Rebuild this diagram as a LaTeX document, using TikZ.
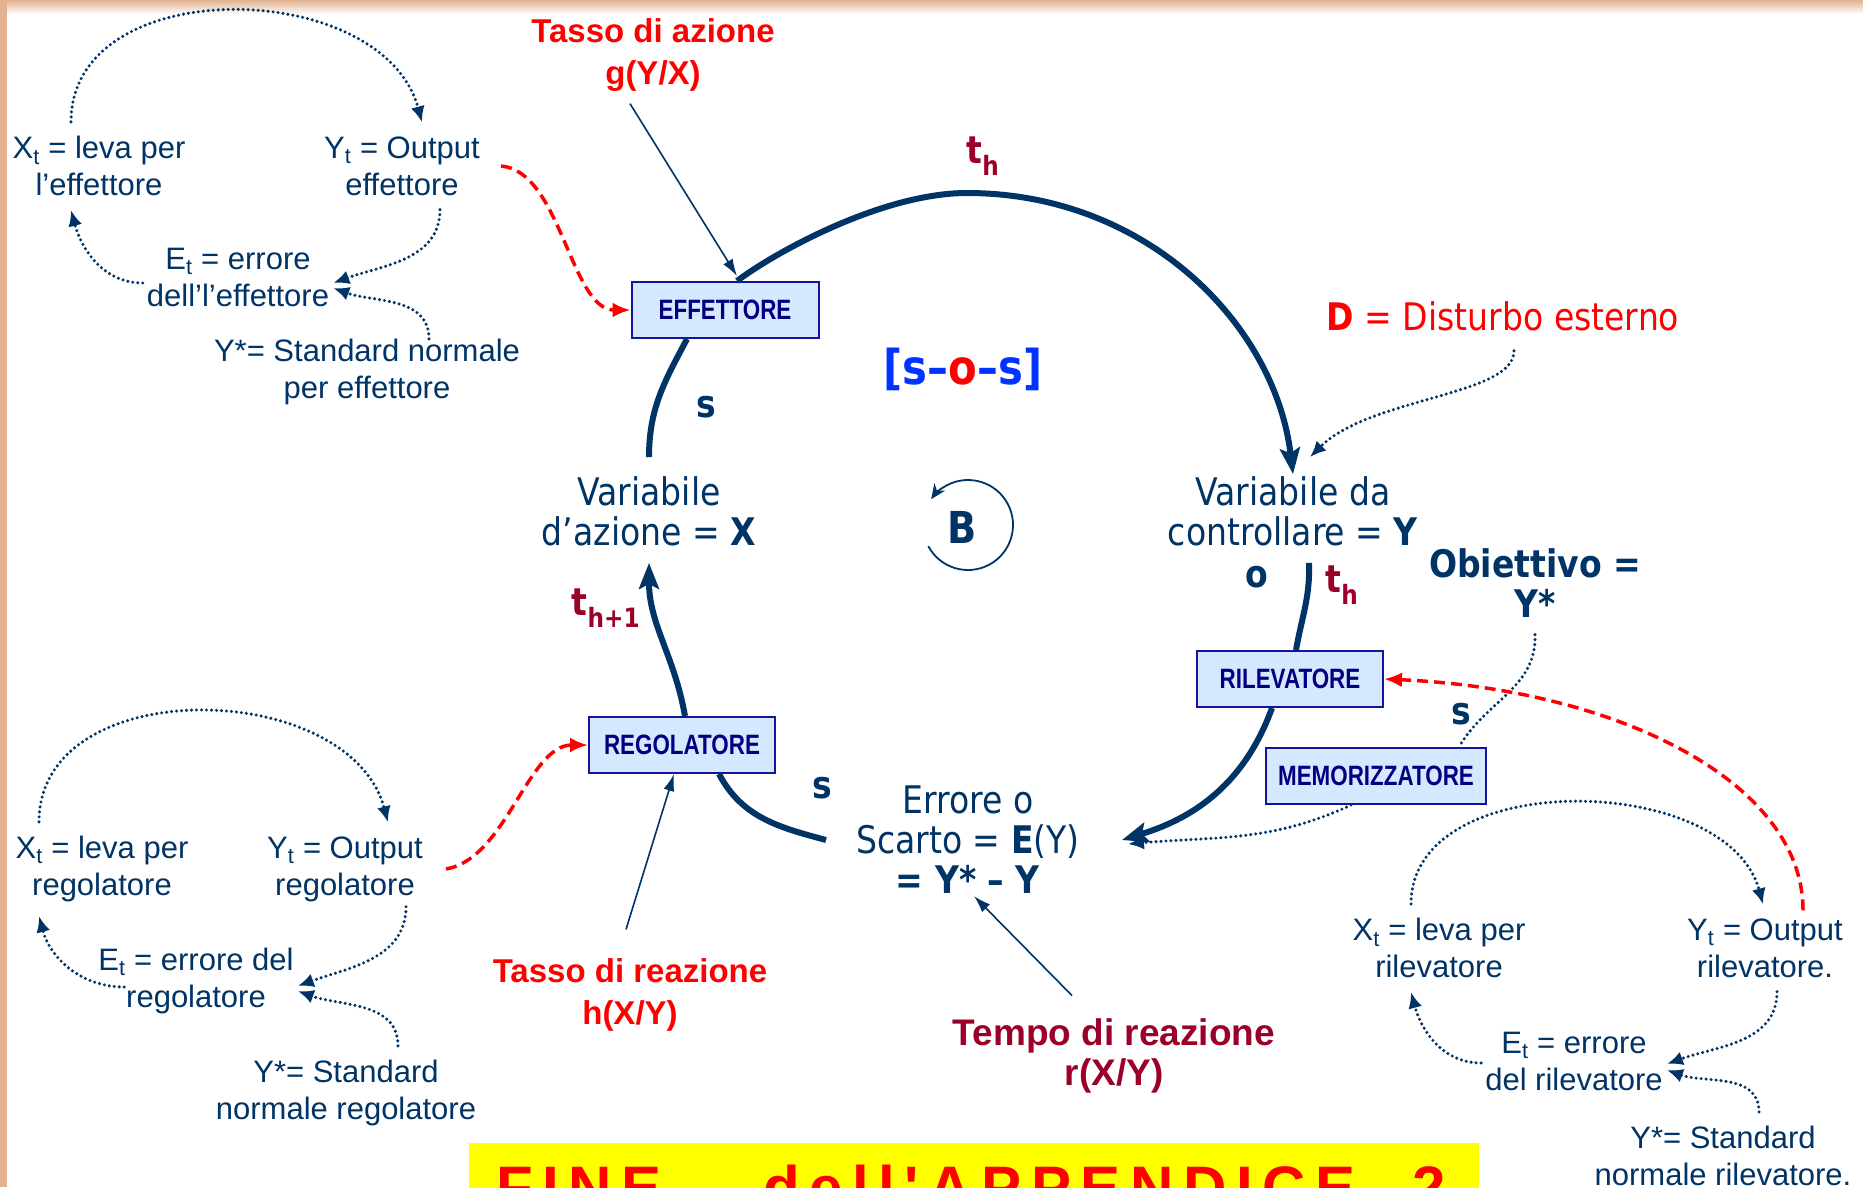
\documentclass[tikz,border=0pt]{standalone}
\usepackage{fontspec}
\setmainfont{Liberation Sans}
\newfontfamily\tahoma[FakeStretch=0.87]{DejaVu Sans}
\newfontfamily\narrowsans[FakeStretch=0.8]{Liberation Sans}
\newfontfamily\bannerfont[LetterSpace=16,Ligatures=TeXOff]{Liberation Sans}
\usetikzlibrary{arrows.meta}
\definecolor{navy}{RGB}{0,51,102}
\definecolor{boxfill}{RGB}{214,232,255}
\definecolor{boxline}{RGB}{20,20,160}
\definecolor{boxtext}{RGB}{0,0,128}
\definecolor{darkred}{RGB}{155,0,40}
\definecolor{sosblue}{RGB}{0,51,255}
\definecolor{tan}{RGB}{226,178,145}
\definecolor{banner}{RGB}{255,255,0}
\tikzset{
  loopt/.style   = {font=\fontsize{31}{37}\selectfont, text=navy, align=center, inner xsep=4pt, inner ysep=14pt},
  vart/.style    = {font=\tahoma\fontsize{38}{40}\selectfont, text=navy, align=center, inner sep=2pt},
  boldt/.style   = {vart, font=\tahoma\bfseries\fontsize{38}{40}\selectfont},
  tlbl/.style    = {font=\tahoma\bfseries\fontsize{38}{40}\selectfont, text=darkred, inner sep=1pt},
  rate/.style    = {font=\bfseries\fontsize{33}{42}\selectfont, text=red, align=center, inner xsep=2pt, inner ysep=12pt},
  unitbox/.style = {draw=boxline, line width=2pt, fill=boxfill, text=boxtext, minimum height=56pt,
                    font=\narrowsans\bfseries\fontsize{28}{30}\selectfont},
  bantxt/.style  = {font=\bannerfont\bfseries\fontsize{60}{60}\selectfont, text=red, inner sep=0pt, anchor=base west},
  ring/.style    = {draw=navy, line width=6pt},
  ringar/.style  = {ring, -{Stealth[length=26pt,width=20pt,inset=5pt]}},
  dotline/.style = {draw=navy, line width=3.4pt, line cap=round, dash pattern=on 0pt off 5pt},
  dots/.style    = {dotline, -{Latex[length=16pt,width=14pt]}},
  reddash/.style = {draw=red, line width=3.5pt, dash pattern=on 11pt off 6pt, -{Latex[length=18pt,width=15pt]}},
  pointer/.style = {draw=navy, line width=1.6pt, -{Latex[length=17pt,width=11pt]}},
  bloop/.style   = {draw=navy, line width=1.8pt, -{Stealth[length=15pt,width=13pt]}},
}

\begin{document}
\begin{tikzpicture}[x=1pt,y=1pt]

% page: 1863 x 1187 px, one unit = one pixel, y downwards as negative
\useasboundingbox (0,0) rectangle (1863,-1187);
\clip (0,0) rectangle (1863,-1187);
\fill[white] (0,0) rectangle (1863,-1187);
\shade[top color=tan, bottom color=white] (0,0) rectangle (1863,-14);
\fill[tan] (0,0) rectangle (7,-1187);

% ======================================================= banner
\fill[banner] (469,-1143) rectangle (1479,-1200);
\node[bantxt] (fine1) at (496,-1208) {FINE};
\node[bantxt] (fine2) at (763,-1208) {dell'APPENDICE};
\node[bantxt] (fine3) at (1412,-1208) {2};

% ======================================================= main loop
\node[unitbox, minimum width=187pt] (effbox) at (725,-310) {EFFETTORE};
\node[unitbox, minimum width=186pt] (regbox) at (682,-745) {REGOLATORE};
\node[unitbox, minimum width=186pt] (rilbox) at (1290,-679) {RILEVATORE};
\node[unitbox, minimum width=220pt] (membox) at (1376,-776) {MEMORIZZATORE};

\node[vart] (varx) at (649,-511) {Variabile\\d’azione = \textbf{X}};
\node[vart] (vary) at (1293,-511) {Variabile da\\controllare = \textbf{Y}};
\node[vart] (errore) at (968,-840) {Errore o\\Scarto = \textbf{E}(Y)\\\textbf{= Y* – Y}};
\node[vart, text=red] (dist) at (1503,-316) {\textbf{D} = Disturbo esterno};
\node[boldt] (obj) at (1535,-583) {Obiettivo =\\Y*};

\node[boldt, font=\tahoma\bfseries\fontsize{48}{48}\selectfont, text=sosblue] (sos) at (963,-369)
  {[s–\textcolor{red}{o}–s]};
\node[boldt, font=\tahoma\bfseries\fontsize{44}{44}\selectfont] (bnode) at (962,-527) {B};
\draw[bloop] ([shift={(6,2)}]bnode.center) ++(208:45) arc[start angle=208, end angle=505, radius=45];

\node[tlbl] (th1) at (983,-156) {t\textsubscript{h}};
\node[tlbl] (th2) at (1342,-585) {t\textsubscript{h}};
\node[tlbl] (th3) at (606,-608) {t\textsubscript{h+1}};
\node[boldt] (s1) at (706,-407) {s};
\node[boldt] (s2) at (822,-788) {s};
\node[boldt] (s3) at (1461,-714) {s};
\node[boldt] (o1) at (1257,-577) {o};

% the thick arc: effettore -> Y -> rilevatore -> E -> regolatore -> X -> effettore
\coordinate (apex) at (967,-193);
\draw[ringar] ([xshift=12]effbox.north) .. controls +(34,26) and +(-87,0) .. (apex)
  .. controls +(179,0) and +(-18,150) .. (vary.north);
\draw[ring] ([xshift=16,yshift=-15]vary.south) to[out=-88,in=80] ([xshift=6]rilbox.north);
\draw[ringar] ([xshift=-18]rilbox.south) to[out=-110,in=17] ([xshift=40]errore.east);
\draw[ring] ([xshift=37]regbox.south) to[out=-62,in=165] ([xshift=-28]errore.west);
\draw[ringar] ([xshift=3]regbox.north) to[out=100,in=-90] ([yshift=-15]varx.south);
\draw[ring] ([xshift=-38]effbox.south) to[out=-118,in=90] ([yshift=17]varx.north);

% disturbance, goal and memory
\draw[dots] ([xshift=11,yshift=-18]dist.south) .. controls +(0,-45) and +(60,60)
  .. ([xshift=17,yshift=17]vary.north);
\draw[dotline] ([yshift=-15]obj.south) to[out=-88,in=60] ([xshift=83]membox.north);
\draw[dots] ([xshift=-25]membox.south) to[out=-155,in=5] ([xshift=46,yshift=-4]errore.east);

% rates and delay
\node[rate] (tazione) at (653,-55) {Tasso di azione\\g(Y/X)};
\node[rate] (treaz) at (630,-995) {Tasso di reazione\\h(X/Y)};
\node[rate, text=darkred, font=\bfseries\fontsize{37}{40}\selectfont] (tempo) at (1114,-1056)
  {Tempo di reazione\\r(X/Y)};
\draw[pointer] ([xshift=-23]tazione.south) -- ([xshift=12,yshift=5]effbox.north);
\draw[pointer] ([xshift=-4,yshift=17]treaz.north) -- ([xshift=-8]regbox.south);
\draw[pointer] ([xshift=-42,yshift=11]tempo.north) -- ([xshift=6]errore.south);

% ======================================================= small loop: effettore
\node[loopt] (xeff) at (99,-166) {X\textsubscript{t} = leva per\\l’effettore};
\node[loopt] (yeff) at (402,-166) {Y\textsubscript{t} = Output\\effettore};
\node[loopt] (eeff) at (238,-277) {E\textsubscript{t} = errore\\dell’l’effettore};
\node[loopt] (seff) at (367,-372) {Y*= Standard normale\\per effettore};
\draw[dots] ([xshift=-28]xeff.north) to[out=90,in=105,looseness=1.1] ([xshift=20]yeff.north);
\draw[dots] ([xshift=38]yeff.south) to[out=-90,in=20] ([yshift=-6]eeff.east);
\draw[dots] ([yshift=-6]eeff.west) to[out=180,in=-75] ([xshift=-28]xeff.south);
\draw[dots] ([xshift=62,yshift=-14]seff.north) to[out=90,in=-20] ([yshift=-11]eeff.east);
\draw[reddash] ([xshift=17]yeff.east) .. controls +(60,-5) and +(-60,0) .. (effbox.west);

% ======================================================= small loop: regolatore
\node[loopt] (xreg) at (102,-869) {X\textsubscript{t} = leva per\\regolatore};
\node[loopt] (yreg) at (345,-869) {Y\textsubscript{t} = Output\\regolatore};
\node[loopt] (ereg) at (196,-981) {E\textsubscript{t} = errore del\\regolatore};
\node[loopt] (sreg) at (346,-1093) {Y*= Standard\\normale regolatore};
\draw[dots] ([xshift=-63]xreg.north) to[out=90,in=105,looseness=1.1] ([xshift=43]yreg.north);
\draw[dots] ([xshift=61,yshift=9]yreg.south) to[out=-90,in=20] ([yshift=-5]ereg.east);
\draw[dots] ([xshift=30,yshift=-6]ereg.west) to[out=180,in=-75] ([xshift=-63]xreg.south);
\draw[dots] ([xshift=52]sreg.north) to[out=90,in=-20] ([yshift=-10]ereg.east);
\draw[reddash] ([xshift=19]yreg.east) .. controls +(60,10) and +(-60,0) .. (regbox.west);

% ======================================================= small loop: rilevatore
\node[loopt] (xril) at (1439,-948) {X\textsubscript{t} = leva per\\rilevatore};
\node[loopt] (yril) at (1765,-948) {Y\textsubscript{t} = Output\\rilevatore.};
\node[loopt] (eril) at (1574,-1061) {E\textsubscript{t} = errore\\del rilevatore};
\node[loopt] (sril) at (1723,-1156) {Y*= Standard\\normale rilevatore.};
\draw[dots] ([xshift=-28]xril.north) to[out=90,in=105] ([xshift=-2]yril.north);
\draw[dots] ([xshift=12]yril.south) to[out=-90,in=20] ([yshift=-3]eril.east);
\draw[dots] ([yshift=-2]eril.west) to[out=180,in=-75] ([xshift=-28]xril.south);
\draw[dots] ([xshift=36]sril.north) to[out=90,in=-20] ([yshift=-9]eril.east);
\draw[reddash] ([xshift=38,yshift=-6]yril.north) .. controls +(0,130) and +(230,-10) .. (rilbox.east);

\end{tikzpicture}
\end{document}
